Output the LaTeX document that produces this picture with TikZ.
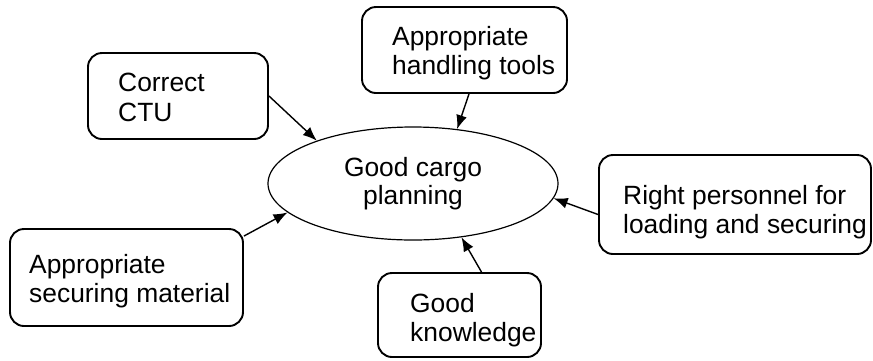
\documentclass[tikz,border=0pt]{standalone}
\usepackage{fontspec}
\setmainfont{Liberation Sans}
\usetikzlibrary{shapes.geometric,arrows.meta,calc}
\begin{document}
\begin{tikzpicture}[x=1pt,y=-1pt,
  boxnode/.style={draw, line width=1.9pt, rounded corners=14pt, inner sep=0pt},
  txt/.style={anchor=north west, align=left, inner sep=0pt, font=\fontsize{26.4}{29.5}\selectfont},
  conn/.style={line width=1.4pt, -{Latex[length=14pt,width=11pt]}}]
\useasboundingbox (0,0) rectangle (873,360);
% central ellipse
\node[draw, ellipse, line width=1.2pt, minimum width=290pt, minimum height=113pt, inner sep=0pt,
      align=center, font=\fontsize{26.4}{27.5}\selectfont] (ell) at (413,183.5) {Good cargo\\planning};
% boxes
\node[boxnode, minimum width=180pt, minimum height=86pt] (ctu) at (178,96) {};
\node[boxnode, minimum width=205pt, minimum height=86pt] (tools) at (464.5,50) {};
\node[boxnode, minimum width=272pt, minimum height=99pt] (pers) at (735,204.5) {};
\node[boxnode, minimum width=233pt, minimum height=97pt] (sec) at (126.5,277.5) {};
\node[boxnode, minimum width=163pt, minimum height=84pt] (know) at (459.5,315) {};
% texts
\node[txt] (ctuT) at (118,73) {Correct\\CTU};
\node[txt] (toolsT) at (392,26) {Appropriate\\handling tools};
\node[txt] (persT) at (623,185) {Right personnel for\\loading and securing};
\node[txt] (secT) at (29,254) {Appropriate\\securing material};
\node[txt] (knowT) at (410,293) {Good\\knowledge};
% connectors
\draw[conn] (ctu.east) -- (ell.156);
\draw[conn] ($(tools.south)+(4.5,0)$) -- (ell.51);
\draw[conn] ($(pers.west)+(0,10)$) -- (ell.-6);
\draw[conn] ($(sec.north east)+(0,8)$) -- (ell.193);
\draw[conn] ($(know.north)+(22,0)$) -- (ell.-48);
\end{tikzpicture}
\end{document}
